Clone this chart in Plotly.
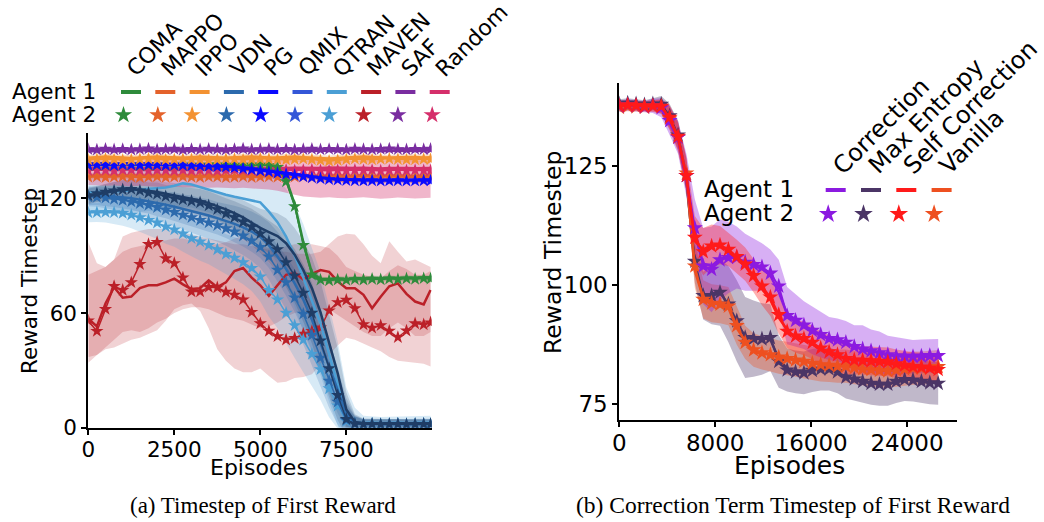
import plotly.graph_objects as go

W, H = 1044, 522
FONT = "DejaVu Sans"

# ---------------- (a) Timestep of first reward ----------------
EP_A = list(range(0, 9751, 250)) + [9950]

SAF_A1 = [144.6,144.9,145.1,144.8,144.7,145.0,145.2,144.9,144.8,145.1,145.0,144.7,144.9,145.2,145.0,144.8,144.9,145.1,144.8,145.0,145.2,144.9,144.7,145.0,145.1,144.8,144.9,145.2,145.0,144.8,145.1,144.9,145.0,145.2,144.8,144.9,145.1,145.0,144.8,145.0,145.1]
SAF_A2 = [145.6,145.4,145.8,145.5,145.7,145.4,145.6,145.9,145.5,145.6,145.8,145.4,145.7,145.5,145.8,145.6,145.4,145.7,145.9,145.5,145.6,145.8,145.5,145.7,145.4,145.6,145.8,145.5,145.7,145.6,145.4,145.8,145.6,145.5,145.7,145.9,145.6,145.5,145.7,145.6,145.8]

IPPO_A1 = [141.2,141.5,141.8,141.6,141.3,141.1,141.4,141.7,141.9,141.6,141.3,141.2,141.5,141.8,141.6,141.4,141.2,141.5,141.7,141.9,141.6,141.3,141.4,141.7,141.8,141.5,141.2,141.0,140.8,141.1,141.5,141.8,141.9,141.6,141.4,141.2,141.5,141.7,141.6,141.4,141.5]
IPPO_A2 = [140.1,140.4,140.6,140.3,140.0,140.2,140.5,140.7,140.4,140.1,140.3,140.6,140.4,140.2,140.0,140.3,140.6,140.5,140.2,140.4,140.7,140.5,140.2,140.1,140.4,140.6,140.3,139.8,139.5,139.9,140.3,140.6,140.4,140.2,140.5,140.7,140.4,140.2,140.3,140.5,140.4]

PG_A1 = [137.8,137.9,137.7,137.8,138.0,137.9,137.7,137.8,137.9,137.8,137.6,137.7,137.5,137.4,137.3,137.1,136.8,136.5,136.1,135.6,135.0,134.4,133.8,133.1,132.4,131.7,131.1,130.6,130.2,129.9,129.7,129.6,129.5,129.5,129.4,129.6,129.5,129.4,129.5,129.6,129.5]
PG_A2 = [137.4,137.6,137.5,137.3,137.6,137.5,137.4,137.6,137.5,137.3,137.4,137.2,137.1,137.0,136.8,136.6,136.3,136.0,135.5,135.0,134.4,133.8,133.2,132.6,132.0,131.4,130.8,130.3,129.9,129.6,129.4,129.3,129.2,129.3,129.1,129.2,129.3,129.1,129.2,129.3,129.2]

RANDOM_A1 = [135.8,136.0,135.7,135.9,136.1,135.8,135.6,135.9,136.0,135.7,135.8,136.0,135.9,135.6,135.8,136.1,135.9,135.7,135.8,136.0,135.9,135.7,135.6,135.8,136.0,135.9,135.7,135.8,136.1,135.9,135.7,135.8,136.0,135.8,135.6,135.9,136.0,135.8,135.7,135.9,135.8]
RANDOM_A2 = [134.5,134.8,134.6,134.4,134.7,134.9,134.6,134.5,134.8,134.6,134.4,134.7,134.5,134.8,134.6,134.4,134.7,134.9,134.6,134.5,134.7,134.4,134.6,134.8,134.5,134.7,134.9,134.6,134.4,134.7,134.5,134.8,134.6,134.7,134.4,134.6,134.8,134.5,134.7,134.6,134.5]
RANDOM_LO = [127.0,126.8,126.5,126.7,126.4,126.2,126.5,126.3,126.0,125.8,126.1,125.9,125.6,125.8,125.5,125.7,125.4,125.2,125.5,125.3,125.0,124.6,124.0,123.0,121.8,121.0,120.6,120.3,120.5,120.2,120.0,120.3,120.5,120.1,119.8,120.0,120.4,120.2,119.9,120.1,120.3]
RANDOM_HI = [140.0,140.2,140.1,139.9,140.2,140.0,139.8,140.1,140.3,140.0,139.9,140.2,140.1,139.8,140.0,140.2,140.1,139.9,140.0,140.2,140.1,139.9,140.0,140.2,140.3,140.1,139.9,140.0,140.2,140.1,139.8,140.0,140.2,140.1,139.9,140.0,140.2,140.1,139.9,140.0,140.1]

MAPPO_A1 = [131.6,131.9,132.0,131.8,131.7,132.0,131.9,131.6,131.8,132.0,131.7,131.9,131.8,131.6,131.9,132.0,131.8,131.7,131.9,131.6,131.8,132.0,131.7,131.9,131.8,131.6,131.9,131.7,131.8,132.0,131.7,131.9,131.8,131.6,131.8,131.9,131.7,131.8,132.0,131.8,131.7]
MAPPO_A2 = [131.1,131.3,131.0,131.2,131.4,131.1,130.9,131.2,131.3,131.0,131.2,131.4,131.1,131.0,131.3,131.2,130.9,131.1,131.3,131.0,131.2,131.4,131.1,130.9,131.2,131.3,131.0,131.2,131.1,131.3,131.0,131.2,131.4,131.1,131.0,131.2,131.3,131.1,130.9,131.2,131.1]

COMA_A1 = [137.5,137.7,137.6,137.4,137.6,137.8,137.5,137.6,137.7,137.5,137.4,137.6,137.7,137.5,137.6,137.8,137.5,137.6,137.4,137.6,137.7,137.5,136.8,130.0,117.0,97.0,81.0,77.8,77.6,78.0,77.7,78.2,78.0,78.3,78.1,78.4,78.2,78.5,78.3,78.6,78.4]
COMA_A2 = [137.3,137.5,137.4,137.2,137.5,137.6,137.3,137.4,137.5,137.3,137.2,137.4,137.5,137.3,137.4,137.6,137.3,137.4,137.2,137.4,137.5,137.2,136.3,128.8,115.8,95.5,80.0,77.3,77.0,77.4,77.2,77.6,77.4,77.8,77.5,77.9,77.6,78.0,77.8,78.1,77.9]

QMIX_A1 = [121.0,122.0,123.0,123.8,124.4,124.7,124.5,124.0,123.3,122.4,121.5,120.6,119.8,118.8,117.5,116.0,114.2,112.2,110.0,107.2,104.5,102.3,100.2,96.5,90.5,82.5,73.0,60.5,44.5,28.5,9.5,3.0,2.3,2.1,2.2,2.0,2.1,2.2,2.0,2.1,2.2]
QMIX_A2 = [121.5,122.5,123.3,124.0,124.6,124.8,124.0,122.8,122.2,121.0,120.0,119.3,118.6,117.8,116.2,114.2,112.0,110.0,107.6,105.0,101.5,97.5,93.3,86.5,79.5,70.5,60.0,45.5,31.0,17.0,4.5,2.0,1.8,1.9,1.7,1.8,1.9,1.7,1.8,1.9,1.8]
QMIX_SPREAD = [4,4,4.5,4.5,5,5,5.5,5.5,6,6,6.5,6.5,7,7,7.5,7.5,8,8.5,9,9.5,10,11,12,13,14,15,16,16,15,13,9,4,2.5,2.5,2.5,2.5,2.5,2.5,2.5,2.5,2.5]

VDN_A1 = [121.5,121.5,121.3,121.0,120.6,120.0,119.3,118.5,117.6,116.6,115.6,114.5,113.4,112.2,111.0,109.6,108.2,106.6,104.8,102.6,99.8,95.5,89.5,83.0,75.5,67.0,56.5,44.5,32.0,19.5,7.5,2.5,2.0,1.9,2.0,2.1,1.9,2.0,2.1,1.9,2.0]
VDN_A2 = [120.8,120.6,120.3,119.6,119.0,118.3,117.4,116.4,115.3,114.0,112.8,111.3,110.0,108.6,107.3,105.8,104.2,102.5,100.4,97.8,94.5,89.5,82.5,76.0,68.0,59.5,48.5,36.5,24.5,13.5,4.0,2.0,1.7,1.8,1.6,1.7,1.8,1.6,1.7,1.8,1.7]
VDN_SPREAD = [5,5,5.5,5.5,6,6,6.5,6.5,7,7,7.5,7.5,8,8,8.5,8.5,9,9.5,10,10.5,11,12,13,14,15,16,16,15,14,12,8,4,2.5,2.5,2.5,2.5,2.5,2.5,2.5,2.5,2.5]

QTRAN_A1 = [123.0,123.4,123.6,123.5,123.8,124.2,124.5,124.8,125.1,125.6,126.6,127.8,127.2,125.8,124.6,123.2,121.9,120.8,119.9,119.0,117.9,113.0,107.5,100.0,90.0,78.5,66.5,54.5,38.5,23.0,5.0,2.5,2.2,2.3,2.1,2.2,2.3,2.1,2.2,2.3,2.2]
QTRAN_A2 = [112.5,112.6,112.8,112.6,112.2,111.3,110.0,108.6,107.2,105.2,103.6,101.5,99.0,97.3,95.5,93.2,90.8,88.8,86.5,83.5,79.0,72.0,67.0,60.0,53.5,46.0,38.5,30.5,20.5,11.5,3.5,2.2,2.0,2.1,1.9,2.0,2.1,1.9,2.0,2.1,2.0]
QTRAN_A1_SPREAD = [10,10,10.5,10.5,11,11,11.5,11.5,12,12,12.5,12.5,12,12,12,12,12,12.5,13,14,16,19,22,25,27,28,28,27,25,22,16,8,4,3.5,3.5,3.5,3.5,3.5,3.5,3.5,4]
QTRAN_A2_SPREAD = [5,5,5.5,6,6.5,7,7.5,8,8.5,9,9,9.5,9.5,10,10,10.5,10.5,11,11.5,12,13,14,15,16,17,17,17,16,15,12,7,3.5,2.5,2.5,2.5,2.5,2.5,2.5,2.5,2.5,2.5]

MAVEN_A1 = [57.0,53.0,65.0,73.5,68.0,68.6,73.0,74.5,74.5,76.0,78.0,75.0,72.5,73.0,77.0,73.5,76.0,82.0,83.5,78.5,74.5,69.0,74.5,80.0,81.0,77.5,80.5,82.5,81.5,76.5,72.9,72.9,69.5,62.5,68.5,74.0,75.5,70.0,66.0,64.5,72.0]
MAVEN_A2 = [56.0,50.5,62.0,74.0,72.0,76.0,85.5,96.0,97.0,88.5,86.0,78.5,71.2,71.2,73.5,73.3,71.0,69.5,67.0,60.5,54.5,50.6,47.8,46.0,46.8,49.0,50.5,52.3,61.2,65.6,66.8,62.4,54.0,52.2,53.5,50.6,47.3,50.7,54.5,54.0,55.0]
MAVEN_A1_LO = [37,38,42,46,50,51,50,52,55,57,60,62,63,63,62,60,58,57,56,54,52,53,55,58,60,61,62,62,62,59,56,53,50,48,48,52,55,52,48,48,50]
MAVEN_A1_HI = [80,82,84,88,92,94,95,96,97,98,99,99,98,97,96,96,97,99,100,98,95,94,93,95,96,96,96,95,94,90,84,82,80,79,78,82,85,83,80,80,82]
MAVEN_A2_LO = [34,38,41,42,44,46,47,49,51,56,62,64,65,61,52,41,35,31,29,29,31,27,23.5,24,26,26.5,28,33,38,43,47,46,44,42,40,37,35,34.5,34,33.5,32]
MAVEN_A2_HI = [97,86,84,88,100,102,103,104,104,104,103,102,101,100,99,98,97,96,96,95,94,93,92,92,91,91,91,92,96,100,101.5,101,96,90,86,97.5,92,87,88,86,84]

A_X_TICKS = [0, 2500, 5000, 7500]
A_Y_TICKS = [0, 60, 120]

# ---------------- (b) Correction term ----------------
EP_B = list(range(0, 26601, 700))

CORR_A1 = [137.7,137.9,137.5,137.6,137.8,137.0,134.0,130.5,122.0,110.5,104.5,104.0,105.6,106.0,105.5,104.9,104.0,103.5,102.0,98.5,93.9,92.9,91.3,90.2,89.9,88.6,88.2,87.7,87.3,86.4,86.0,85.9,85.2,85.3,84.9,85.2,85.0,85.0,85.3]
CORR_A2 = [137.5,137.8,137.6,137.4,137.6,137.2,134.5,131.0,123.0,112.0,104.0,103.3,105.3,105.8,105.8,104.8,104.3,103.8,102.5,99.8,93.6,92.6,91.6,90.5,89.6,88.8,88.5,88.0,87.1,86.6,86.2,85.8,85.4,85.1,85.1,85.0,85.1,85.2,85.2]
CORR_SPREAD = [1.2,1.2,1.2,1.2,1.5,2,3,3.5,4.5,6,8,9,8.5,7.5,6.5,6,5.5,5,5,5.5,6,5.5,5,5,4.8,4.5,4.5,4.5,4.5,5,4.5,4.5,4,4,3.8,3.5,3.5,3.5,3.5]

MAXENT_A1 = [138.1,138.0,137.9,138.0,137.9,137.7,135.0,131.0,122.0,104.0,97.5,98.2,98.8,95.5,92.0,89.3,88.5,88.9,88.6,84.5,82.5,81.5,81.9,82.3,82.1,82.6,81.5,80.9,80.1,79.6,79.6,79.0,79.4,79.6,80.0,80.3,79.6,79.7,79.2]
MAXENT_A2 = [138.0,138.2,138.0,137.8,138.0,137.9,135.5,131.5,123.0,105.0,97.8,97.8,98.5,96.0,92.5,89.0,88.8,88.7,89.0,84.0,82.2,81.8,81.6,82.1,82.4,82.4,81.8,80.7,80.3,79.8,79.4,79.2,79.2,79.8,80.2,80.1,79.8,79.5,79.4]
MAXENT_SPREAD = [1.0,1.0,1.0,1.0,1.2,1.8,2.5,3,3.5,4.5,5,6,7,8,8.5,8.5,8,7.5,7,5.5,4.5,4.5,4.5,4.5,4.5,4.5,4.5,4.5,4.5,4.5,4.5,4.5,4.5,4.5,4.5,4.5,4.5,4.5,4.5]

SELF_A1 = [137.8,137.6,137.9,137.6,137.4,137.6,134.8,130.8,122.4,109.2,107.4,108.5,108.1,107.2,105.6,104.0,101.5,99.2,96.9,93.2,90.6,89.0,88.5,87.6,86.5,85.7,85.1,84.8,84.1,84.4,83.9,83.8,83.6,83.3,83.0,82.7,82.9,82.4,82.1]
SELF_A2 = [137.6,137.8,137.7,137.5,137.6,137.5,135.2,131.2,123.0,110.0,107.0,108.2,108.4,107.5,106.0,104.4,102.0,99.8,97.5,93.8,90.3,89.3,88.8,88.0,86.8,86.0,85.4,84.6,84.3,84.2,84.1,84.0,83.9,83.5,83.2,82.9,82.8,82.6,82.3]
SELF_SPREAD = [1,1,1,1,1.2,1.5,2.5,3,3.5,4.5,5,4.5,4,3.5,3.5,3.5,3.5,4,4,4,3.5,3.5,3.5,3.5,3.5,3.5,3.5,3.5,3,3,3,3,3,3,3,3,3,3,3]

VANILLA_A1 = [137.1,137.4,137.2,137.5,137.3,137.2,134.6,130.5,122.8,103.0,97.3,96.6,95.7,95.2,91.0,88.3,86.1,85.5,85.6,84.6,84.8,84.0,84.2,83.4,83.5,83.0,83.2,82.8,82.9,82.2,82.5,81.9,82.2,82.0,82.6,82.4,82.8,82.5,83.1]
VANILLA_A2 = [137.3,137.5,137.4,137.3,137.5,137.4,135.0,131.0,123.5,104.0,97.0,96.2,96.0,95.6,91.5,88.0,86.4,85.8,85.4,84.9,84.6,84.3,84.0,83.6,83.3,83.2,83.0,83.0,82.7,82.4,82.3,82.1,82.0,82.2,82.4,82.6,82.6,82.7,82.9]
VANILLA_SPREAD = [1,1,1,1,1.2,1.5,2.5,3,3.5,4.5,4,4,4,4,4,3.5,3.5,3.5,3.5,3.5,3.5,3.5,3.5,3.5,3.5,3.5,3.5,3.5,3.5,3.5,3.5,3.5,3.5,3.5,3.5,3.5,3.5,3.5,3.5]

B_X_TICKS = [0, 8000, 16000, 24000]
B_Y_TICKS = [75, 100, 125]

# ---------------- legend entries ----------------
A_METHODS = ["COMA", "MAPPO", "IPPO", "VDN", "PG", "QMIX", "QTRAN", "MAVEN", "SAF", "Random"]
A_COLORS = ["#2e8b3b", "#e4622b", "#f39232", "#2c6aad", "#0a0aff", "#3457d8", "#4b9fd5", "#bb2028", "#7a2da0", "#d52f6b"]
QMIX_CURVE = "#1f3d66"
B_METHODS = ["Correction", "Max Entropy", "Self Correction", "Vanilla"]
B_COLORS = ["#8b1ae0", "#4b3566", "#ff1a1a", "#ee5020"]
AGENTS = ["Agent 1", "Agent 2"]

ACOL = dict(zip(A_METHODS, A_COLORS))
BCOL = dict(zip(B_METHODS, B_COLORS))


def rgba(hex_color, alpha):
    h = hex_color.lstrip("#")
    r, g, b = int(h[0:2], 16), int(h[2:4], 16), int(h[4:6], 16)
    return f"rgba({r},{g},{b},{alpha})"


fig = go.Figure()


def band(xs, lo, hi, color, alpha, ax):
    xa, ya = ax
    fig.add_trace(go.Scatter(
        x=list(xs) + list(xs)[::-1], y=list(hi) + list(lo)[::-1],
        fill="toself", fillcolor=rgba(color, alpha), line=dict(width=0),
        mode="lines", hoverinfo="skip", showlegend=False, xaxis=xa, yaxis=ya))


def spread_band(xs, vals, spread, color, alpha, ax):
    lo = [v - s for v, s in zip(vals, spread)]
    hi = [v + s for v, s in zip(vals, spread)]
    band(xs, lo, hi, color, alpha, ax)


def curve(xs, ys, color, ax, star=False, width=2.5, size=10):
    xa, ya = ax
    fig.add_trace(go.Scatter(
        x=xs, y=ys, mode="lines+markers" if star else "lines",
        line=dict(color=color, width=width),
        marker=dict(symbol="star", size=size, color=color, line=dict(width=0)),
        hoverinfo="skip", showlegend=False, xaxis=xa, yaxis=ya))


AX_A = ("x", "y")
AX_B = ("x2", "y2")

# bands of panel (a)
band(EP_A, MAVEN_A2_LO, MAVEN_A2_HI, ACOL["MAVEN"], 0.2, AX_A)
band(EP_A, MAVEN_A1_LO, MAVEN_A1_HI, ACOL["MAVEN"], 0.2, AX_A)
spread_band(EP_A, QTRAN_A1, QTRAN_A1_SPREAD, ACOL["QTRAN"], 0.22, AX_A)
spread_band(EP_A, QTRAN_A2, QTRAN_A2_SPREAD, ACOL["QTRAN"], 0.22, AX_A)
spread_band(EP_A, VDN_A1, VDN_SPREAD, ACOL["VDN"], 0.2, AX_A)
spread_band(EP_A, VDN_A2, VDN_SPREAD, ACOL["VDN"], 0.2, AX_A)
spread_band(EP_A, QMIX_A1, QMIX_SPREAD, QMIX_CURVE, 0.18, AX_A)
spread_band(EP_A, QMIX_A2, QMIX_SPREAD, QMIX_CURVE, 0.18, AX_A)
band(EP_A, RANDOM_LO, RANDOM_HI, ACOL["Random"], 0.35, AX_A)
for a1, a2, name, sp in [(PG_A1, PG_A2, "PG", 1.0), (IPPO_A1, IPPO_A2, "IPPO", 1.5),
                         (SAF_A1, SAF_A2, "SAF", 1.0), (MAPPO_A1, MAPPO_A2, "MAPPO", 1.2),
                         (COMA_A1, COMA_A2, "COMA", 1.2)]:
    band(EP_A, [min(u, v) - sp for u, v in zip(a1, a2)], [max(u, v) + sp for u, v in zip(a1, a2)],
         ACOL[name], 0.3, AX_A)

# curves of panel (a)
curve(EP_A, MAVEN_A1, ACOL["MAVEN"], AX_A)
curve(EP_A, MAVEN_A2, ACOL["MAVEN"], AX_A, star=True, width=1.5)
curve(EP_A, QTRAN_A1, ACOL["QTRAN"], AX_A)
curve(EP_A, QTRAN_A2, ACOL["QTRAN"], AX_A, star=True, width=1.5)
curve(EP_A, VDN_A1, ACOL["VDN"], AX_A)
curve(EP_A, VDN_A2, ACOL["VDN"], AX_A, star=True, width=1.5)
curve(EP_A, QMIX_A1, QMIX_CURVE, AX_A)
curve(EP_A, QMIX_A2, QMIX_CURVE, AX_A, star=True, width=1.5)
curve(EP_A, MAPPO_A1, ACOL["MAPPO"], AX_A)
curve(EP_A, MAPPO_A2, ACOL["MAPPO"], AX_A, star=True, width=1.5)
curve(EP_A, RANDOM_A1, ACOL["Random"], AX_A)
curve(EP_A, RANDOM_A2, ACOL["Random"], AX_A, star=True, width=1.5)
curve(EP_A, COMA_A1, ACOL["COMA"], AX_A)
curve(EP_A, COMA_A2, ACOL["COMA"], AX_A, star=True, width=1.5)
curve(EP_A, PG_A1, ACOL["PG"], AX_A)
curve(EP_A, PG_A2, ACOL["PG"], AX_A, star=True, width=1.5)
curve(EP_A, IPPO_A1, ACOL["IPPO"], AX_A)
curve(EP_A, IPPO_A2, ACOL["IPPO"], AX_A, star=True, width=1.5)
curve(EP_A, SAF_A1, ACOL["SAF"], AX_A)
curve(EP_A, SAF_A2, ACOL["SAF"], AX_A, star=True, width=1.5)

# panel (b)
for a1, a2, sp, name in [(MAXENT_A1, MAXENT_A2, MAXENT_SPREAD, "Max Entropy"),
                         (VANILLA_A1, VANILLA_A2, VANILLA_SPREAD, "Vanilla"),
                         (CORR_A1, CORR_A2, CORR_SPREAD, "Correction"),
                         (SELF_A1, SELF_A2, SELF_SPREAD, "Self Correction")]:
    spread_band(EP_B, a2, sp, BCOL[name], 0.35, AX_B)
for a1, a2, name in [(MAXENT_A1, MAXENT_A2, "Max Entropy"), (VANILLA_A1, VANILLA_A2, "Vanilla"),
                     (CORR_A1, CORR_A2, "Correction"), (SELF_A1, SELF_A2, "Self Correction")]:
    curve(EP_B, a1, BCOL[name], AX_B, width=2.5)
    curve(EP_B, a2, BCOL[name], AX_B, star=True, width=2, size=12)

# ---------------- legends drawn on a full-figure pixel axis ----------------


def seg(x0, x1, y, color):
    fig.add_trace(go.Scatter(x=[x0, x1], y=[y, y], mode="lines", line=dict(color=color, width=4),
                             hoverinfo="skip", showlegend=False, xaxis="x3", yaxis="y3"))


def star(x, y, color, size):
    fig.add_trace(go.Scatter(x=[x], y=[y], mode="markers",
                             marker=dict(symbol="star", size=size, color=color, line=dict(width=0)),
                             hoverinfo="skip", showlegend=False, xaxis="x3", yaxis="y3"))


annotations = []


def text(x, y, s, size, angle=0, xanchor="left", yanchor="middle", family=FONT):
    annotations.append(dict(x=x / W, y=1 - y / H, xref="paper", yref="paper", text=s,
                            showarrow=False, textangle=angle, xanchor=xanchor, yanchor=yanchor,
                            font=dict(family=family, size=size, color="black")))


for i, (m, c) in enumerate(zip(A_METHODS, A_COLORS)):
    x0 = 121 + 34.3 * i
    seg(x0, x0 + 20, 92, c)
    star(x0 + 2.5, 115, c, 13)
    text(x0 - 1.8, 84.1, m, 22, angle=-45, xanchor="left", yanchor="bottom")
text(10, 92, AGENTS[0], 21.5)
text(10, 115, AGENTS[1], 21.5)

for i, (m, c) in enumerate(zip(B_METHODS, B_COLORS)):
    x0 = 825.7 + 35.3 * i
    seg(x0, x0 + 20, 190, c)
    star(x0 + 2.5, 214, c, 14)
    text(x0 - 0.8, 182.4, m, 24, angle=-45, xanchor="left", yanchor="bottom")
text(702, 188.5, AGENTS[0], 23)
text(702, 213, AGENTS[1], 23)

# axis titles and captions
text(29, 281, "Reward Timestep", 21.5, angle=-90, xanchor="center")
text(259, 467, "Episodes", 22, xanchor="center")
text(553, 253, "Reward Timestep", 23.5, angle=-90, xanchor="center")
text(789, 465, "Episodes", 25, xanchor="center")
text(263, 505, "(a) Timestep of First Reward", 23, xanchor="center", family="Liberation Serif")
text(793, 505, "(b) Correction Term Timestep of First Reward", 23.5, xanchor="center",
     family="Liberation Serif")

axis_style = dict(showline=True, linewidth=2, linecolor="black", ticks="outside", ticklen=5,
                  tickwidth=1.5, tickcolor="black", showgrid=False, zeroline=False,
                  fixedrange=True, automargin=False)

fig.update_layout(
    width=W, height=H, margin=dict(l=0, r=0, t=0, b=0, autoexpand=False),
    paper_bgcolor="white", plot_bgcolor="rgba(0,0,0,0)", showlegend=False,
    annotations=annotations,
    xaxis=dict(domain=[88.3 / W, 431.7 / W], range=[0, 9983], anchor="y", tickvals=A_X_TICKS,
               ticktext=[str(v) for v in A_X_TICKS], ticklabelstandoff=-4,
               tickfont=dict(family=FONT, size=21.5, color="black"), **axis_style),
    yaxis=dict(domain=[1 - 427.7 / H, 1 - 133.3 / H], range=[0, 154], anchor="x", tickvals=A_Y_TICKS,
               ticktext=[str(v) for v in A_Y_TICKS],
               tickfont=dict(family=FONT, size=21.5, color="black"), **axis_style),
    xaxis2=dict(domain=[619.3 / W, 957 / W], range=[0, 28170], anchor="y2", tickvals=B_X_TICKS,
                ticktext=[str(v) for v in B_X_TICKS], ticklabelstandoff=-4,
                tickfont=dict(family=FONT, size=23, color="black"), **axis_style),
    yaxis2=dict(domain=[1 - 420 / H, 1 - 83.3 / H], range=[71.71, 142.34], anchor="x2",
                tickvals=B_Y_TICKS, ticktext=[str(v) for v in B_Y_TICKS],
                tickfont=dict(family=FONT, size=23, color="black"), **axis_style),
    xaxis3=dict(domain=[0, 1], range=[0, W], anchor="y3", visible=False, fixedrange=True,
                automargin=False),
    yaxis3=dict(domain=[0, 1], range=[H, 0], anchor="x3", visible=False, fixedrange=True,
                automargin=False),
)

fig.write_html("out.html")
